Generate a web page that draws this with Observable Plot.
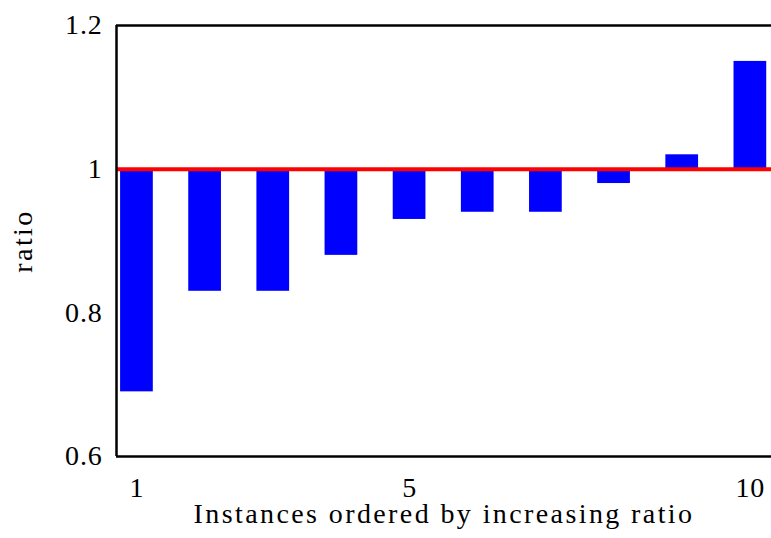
<!DOCTYPE html>
<html>
<head>
<meta charset="utf-8">
<script src="https://cdn.jsdelivr.net/npm/d3@7"></script>
<script src="https://cdn.jsdelivr.net/npm/@observablehq/plot@0.6"></script>
<style>
  html, body { margin: 0; padding: 0; background: #fff; }
  #chart svg { display: block; }
  #chart svg g[aria-label="x-axis label"] text,
  #chart svg g[aria-label="y-axis label"] text { letter-spacing: 2.4px; }
  #chart svg g[aria-label="x-axis tick label"] text,
  #chart svg g[aria-label="y-axis tick label"] text { letter-spacing: 0.8px; }
</style>
</head>
<body>
<div id="chart"></div>
<script>
const instances = [1, 2, 3, 4, 5, 6, 7, 8, 9, 10];
const ratios = [0.69, 0.83, 0.83, 0.88, 0.93, 0.94, 0.94, 0.98, 1.02, 1.15];
const xTicks = [1, 5, 10];
const yTicks = [0.6, 0.8, 1, 1.2];
const yTickLabels = ["0.6", "0.8", "1", "1.2"];
const xLabel = "Instances ordered by increasing ratio";
const yLabel = "ratio";

const data = instances.map((x, i) => ({x, ratio: ratios[i]}));
const halfWidth = 0.24;
const font = "'Liberation Serif', 'DejaVu Serif', serif";

const chart = Plot.plot({
  width: 771,
  height: 538,
  marginLeft: 116,
  marginRight: 0,
  marginTop: 25,
  marginBottom: 82,
  style: {fontFamily: font, fontSize: "28px", color: "#000", background: "#fff"},
  x: {domain: [0.7, 10.31]},
  y: {domain: [0.6, 1.2]},
  marks: [
    Plot.rectY(data, {
      x1: d => d.x - halfWidth,
      x2: d => d.x + halfWidth,
      y1: 1,
      y2: "ratio",
      fill: "#0000ff"
    }),
    Plot.ruleY([1], {stroke: "#ff0000", strokeWidth: 4}),
    Plot.ruleY([0.6, 1.2], {stroke: "#000", strokeWidth: 2.5}),
    Plot.ruleX([0.7], {stroke: "#000", strokeWidth: 2.5}),
    Plot.axisX(xTicks, {
      tickSize: 0, tickPadding: 21, fontSize: 28,
      label: xLabel, labelAnchor: "center", labelOffset: 66, labelArrow: "none"
    }),
    Plot.axisY(yTicks, {
      tickSize: 0, tickPadding: 14, fontSize: 28,
      tickFormat: (d, i) => yTickLabels[i],
      label: yLabel, labelAnchor: "center", labelOffset: 104, labelArrow: "none"
    })
  ]
});
document.getElementById("chart").appendChild(chart);
</script>
</body>
</html>
